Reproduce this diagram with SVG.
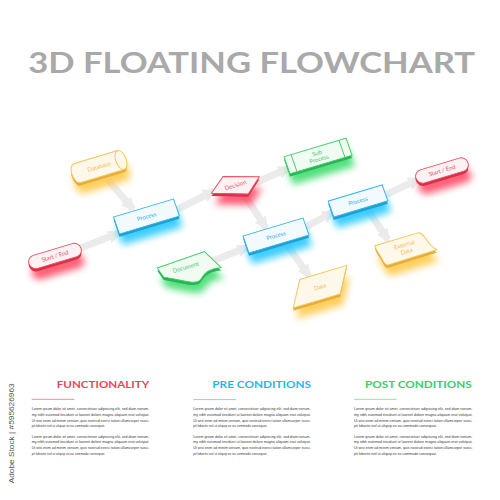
<svg xmlns="http://www.w3.org/2000/svg" width="500" height="500" viewBox="0 0 500 500">
<defs>
<style>
.title{font-family:Lato,"Open Sans","Liberation Sans",sans-serif;font-weight:700}
.node text{font-family:Lato,"Open Sans","Liberation Sans",sans-serif;font-size:5.6px;text-anchor:middle;stroke:none}
.shadow{filter:url(#blur);opacity:.8}
.face{stroke-width:.9}
.blue .shadow{fill:#08c2ff}.blue .edge{fill:#1e9fd4}.blue .face{fill:#f2fafd;stroke:#2db6ea}.blue text{fill:#2aaee3}
.red .shadow{fill:#ff3552}.red .edge{fill:#d93049}.red .face{fill:#fdf2f3;stroke:#ef4a60}.red text{fill:#ec4a60}
.green .shadow{fill:#2ad85e}.green .edge{fill:#28b454}.green .face{fill:#f0fbf2;stroke:#3fcf6b}.green text{fill:#43c96c}
.yellow .shadow{fill:#ffc235}.yellow .edge{fill:#e6ad35}.yellow .face{fill:#fef8ea;stroke:#f2c45c}.yellow text{fill:#eebc4f}
.conn{fill:none;stroke:#ebebeb;stroke-width:7;marker-end:url(#arr)}
.body{font-family:"Liberation Sans",Arial,sans-serif;font-size:3.6px;fill:#383838}
.hd{font-family:Lato,"Open Sans","Liberation Sans",sans-serif;font-weight:700;font-size:10.2px;text-anchor:end}
</style>
<filter id="blur" x="-50%" y="-50%" width="200%" height="200%"><feGaussianBlur stdDeviation="3.4"/></filter>
<marker id="arr" viewBox="0 0 10 10" refX="8" refY="5" markerWidth="1.9" markerHeight="1.9" orient="auto"><path d="M0,0 L10,5 L0,10 z" fill="#ebebeb"/></marker>
<rect id="sp60" x="-30" y="-8.5" width="60" height="17"/>
<rect id="sp54" x="-27" y="-8" width="54" height="16"/>
<rect id="sp62" x="-31" y="-8.5" width="62" height="17"/>
<rect id="sse" x="-26" y="-6.5" width="52" height="13" rx="6.5"/>
<path id="sdb" d="M-24,-9.5 H20 A5 9.5 0 0 1 20 9.5 H-24 A5 9.5 0 0 1 -24 -9.5 Z"/>
<polygon id="sdec" points="-24.3,0.9 -8.6,-11.2 24.2,-1.1 8.8,11.5"/>
<path id="sdoc" d="M-30,-8 L18,-10 L28,9 C20,7 12,8 6,14 C0,19 -14,8 -27,2 Z"/>
<polygon id="sdata" points="-16,-12 31,-12 16,12 -31,12"/>
<path id="sext" d="M-26,-12 L17,-12 C22,-12 22,-2 25,3 C27,7 29,8 29,8.5 L-20,9 C-24,9 -23,0 -25,-4 C-26,-8 -26,-10 -26,-12 Z"/>
</defs>
<rect width="500" height="500" fill="#ffffff"/>

<text class="title" x="28.3" y="72.7" font-size="29" fill="#a9a9a9" textLength="446.7" lengthAdjust="spacingAndGlyphs">3D FLOATING FLOWCHART</text>

<g id="connectors">
<line class="conn" x1="78" y1="249" x2="119" y2="233"/>
<line class="conn" x1="108" y1="180" x2="133" y2="209"/>
<line class="conn" x1="176" y1="210" x2="214" y2="191"/>
<line class="conn" x1="255" y1="183" x2="289" y2="168"/>
<line class="conn" x1="243" y1="193" x2="266" y2="228"/>
<line class="conn" x1="210" y1="262" x2="248" y2="247"/>
<line class="conn" x1="304" y1="228" x2="333" y2="212"/>
<line class="conn" x1="383" y1="196" x2="419" y2="179"/>
<line class="conn" x1="368" y1="210" x2="388" y2="240"/>
<line class="conn" x1="288" y1="246" x2="309" y2="276"/>
</g>

<g id="start-end-1" class="node red" transform="translate(55,256)">
<use href="#sse" class="shadow" transform="translate(3,11) matrix(1,-0.3,0.35,1,0,0)"/>
<use href="#sse" class="edge" transform="translate(0,2.8) matrix(1,-0.3,0.35,1,0,0)"/>
<g class="face" transform="matrix(1,-0.3,0.35,1,0,0)"><use href="#sse"/><text y="2">Start / End</text></g>
</g>

<g id="database" class="node yellow" transform="translate(101,166)">
<use href="#sdb" class="shadow" transform="translate(3,11) matrix(1,-0.3,0.35,1,0,0)"/>
<use href="#sdb" class="edge" transform="translate(0,2.8) matrix(1,-0.3,0.35,1,0,0)"/>
<g class="face" transform="matrix(1,-0.3,0.35,1,0,0)"><use href="#sdb"/><path d="M20,-9.5 A5 9.5 0 0 0 20 9.5" fill="none"/><text x="-2" y="2">Database</text></g>
</g>

<g id="process-1" class="node blue" transform="translate(146.5,216.5)">
<use href="#sp60" class="shadow" transform="translate(3,11) matrix(1,-0.3,0.35,1,0,0)"/>
<use href="#sp60" class="edge" transform="translate(0,2.8) matrix(1,-0.3,0.35,1,0,0)"/>
<g class="face" transform="matrix(1,-0.3,0.35,1,0,0)"><use href="#sp60"/><text y="2">Process</text></g>
</g>

<g id="decision" class="node red" transform="translate(235.5,185.1)">
<use href="#sdec" class="shadow" transform="translate(3,11) matrix(1,-0.3,0.35,1,0,0)"/>
<use href="#sdec" class="edge" transform="translate(0,2.8) matrix(1,-0.3,0.35,1,0,0)"/>
<g class="face" transform="matrix(1,-0.3,0.35,1,0,0)"><use href="#sdec"/><text y="2">Decision</text></g>
</g>

<g id="sub-process" class="node green" transform="translate(318,156)">
<use href="#sp62" class="shadow" transform="translate(3,11) matrix(1,-0.3,0.35,1,0,0)"/>
<use href="#sp62" class="edge" transform="translate(0,2.8) matrix(1,-0.3,0.35,1,0,0)"/>
<g class="face" transform="matrix(1,-0.3,0.35,1,0,0)"><use href="#sp62"/><path d="M-24,-8.5V8.5M24,-8.5V8.5" fill="none"/><text y="-1">Sub</text><text y="5">Process</text></g>
</g>

<g id="start-end-2" class="node red" transform="translate(442,170.5)">
<use href="#sse" class="shadow" transform="translate(3,11) matrix(1,-0.3,0.35,1,0,0)"/>
<use href="#sse" class="edge" transform="translate(0,2.8) matrix(1,-0.3,0.35,1,0,0)"/>
<g class="face" transform="matrix(1,-0.3,0.35,1,0,0)"><use href="#sse"/><text y="2">Start / End</text></g>
</g>

<g id="process-3" class="node blue" transform="translate(358,201)">
<use href="#sp54" class="shadow" transform="translate(3,11) matrix(1,-0.3,0.35,1,0,0)"/>
<use href="#sp54" class="edge" transform="translate(0,2.8) matrix(1,-0.3,0.35,1,0,0)"/>
<g class="face" transform="matrix(1,-0.3,0.35,1,0,0)"><use href="#sp54"/><text y="2">Process</text></g>
</g>

<g id="process-2" class="node blue" transform="translate(276,235.5)">
<use href="#sp60" class="shadow" transform="translate(3,11) matrix(1,-0.3,0.35,1,0,0)"/>
<use href="#sp60" class="edge" transform="translate(0,2.8) matrix(1,-0.3,0.35,1,0,0)"/>
<g class="face" transform="matrix(1,-0.3,0.35,1,0,0)"><use href="#sp60"/><text y="2">Process</text></g>
</g>

<g id="document" class="node green" transform="translate(190,267)">
<use href="#sdoc" class="shadow" transform="translate(3,11) matrix(1,-0.3,0.35,1,0,0)"/>
<use href="#sdoc" class="edge" transform="translate(0,2.8) matrix(1,-0.3,0.35,1,0,0)"/>
<g class="face" transform="matrix(1,-0.3,0.35,1,0,0)"><use href="#sdoc"/><text x="-4" y="1">Document</text></g>
</g>

<g id="data" class="node yellow" transform="translate(320,286.7)">
<use href="#sdata" class="shadow" transform="translate(3,11) matrix(1,-0.3,0.35,1,0,0)"/>
<use href="#sdata" class="edge" transform="translate(0,2.8) matrix(1,-0.3,0.35,1,0,0)"/>
<g class="face" transform="matrix(1,-0.3,0.35,1,0,0)"><use href="#sdata"/><text y="2">Data</text></g>
</g>

<g id="external-data" class="node yellow" transform="translate(405,250)">
<use href="#sext" class="shadow" transform="translate(3,11) matrix(1,-0.3,0.35,1,0,0)"/>
<use href="#sext" class="edge" transform="translate(0,2.8) matrix(1,-0.3,0.35,1,0,0)"/>
<g class="face" transform="matrix(1,-0.3,0.35,1,0,0)"><use href="#sext"/><text x="1" y="-3">External</text><text x="1" y="3.5">Data</text></g>
</g>

<g id="col-functionality">
<text class="hd" x="149.3" y="388.3" fill="#f1435d" textLength="92.6" lengthAdjust="spacingAndGlyphs">FUNCTIONALITY</text>
<line x1="31.7" y1="399.3" x2="74.3" y2="399.3" stroke="#f58a9a" stroke-width="1"/>
<g class="body">
<text x="31.7" y="410.2" textLength="117.6" lengthAdjust="spacingAndGlyphs">Lorem ipsum dolor sit amet, consectetuer adipiscing elit, sed diam nonum-</text>
<text x="31.7" y="415.9" textLength="117.6" lengthAdjust="spacingAndGlyphs">my nibh euismod tincidunt ut laoreet dolore magna aliquam erat volutpat.</text>
<text x="31.7" y="421.6" textLength="117.6" lengthAdjust="spacingAndGlyphs">Ut wisi enim ad minim veniam, quis nostrud exerci tation ullamcorper susci-</text>
<text x="31.7" y="427.3" textLength="73.3" lengthAdjust="spacingAndGlyphs">pit lobortis nisl ut aliquip ex ea commodo consequat.</text>
<text x="31.7" y="437.5" textLength="117.6" lengthAdjust="spacingAndGlyphs">Lorem ipsum dolor sit amet, consectetuer adipiscing elit, sed diam nonum-</text>
<text x="31.7" y="443.2" textLength="117.6" lengthAdjust="spacingAndGlyphs">my nibh euismod tincidunt ut laoreet dolore magna aliquam erat volutpat.</text>
<text x="31.7" y="448.9" textLength="117.6" lengthAdjust="spacingAndGlyphs">Ut wisi enim ad minim veniam, quis nostrud exerci tation ullamcorper susci-</text>
<text x="31.7" y="454.6" textLength="73.3" lengthAdjust="spacingAndGlyphs">pit lobortis nisl ut aliquip ex ea commodo consequat.</text>
</g>
</g>

<g id="col-pre-conditions">
<text class="hd" x="311" y="388.3" fill="#1fb8ee" textLength="98.7" lengthAdjust="spacingAndGlyphs">PRE CONDITIONS</text>
<line x1="193.3" y1="399.6" x2="236" y2="399.6" stroke="#7fd6f5" stroke-width="1"/>
<g class="body">
<text x="193.3" y="410.2" textLength="117.4" lengthAdjust="spacingAndGlyphs">Lorem ipsum dolor sit amet, consectetuer adipiscing elit, sed diam nonum-</text>
<text x="193.3" y="415.9" textLength="117.4" lengthAdjust="spacingAndGlyphs">my nibh euismod tincidunt ut laoreet dolore magna aliquam erat volutpat.</text>
<text x="193.3" y="421.6" textLength="117.4" lengthAdjust="spacingAndGlyphs">Ut wisi enim ad minim veniam, quis nostrud exerci tation ullamcorper susci-</text>
<text x="193.3" y="427.3" textLength="74" lengthAdjust="spacingAndGlyphs">pit lobortis nisl ut aliquip ex ea commodo consequat.</text>
<text x="193.3" y="437.5" textLength="117.4" lengthAdjust="spacingAndGlyphs">Lorem ipsum dolor sit amet, consectetuer adipiscing elit, sed diam nonum-</text>
<text x="193.3" y="443.2" textLength="117.4" lengthAdjust="spacingAndGlyphs">my nibh euismod tincidunt ut laoreet dolore magna aliquam erat volutpat.</text>
<text x="193.3" y="448.9" textLength="117.4" lengthAdjust="spacingAndGlyphs">Ut wisi enim ad minim veniam, quis nostrud exerci tation ullamcorper susci-</text>
<text x="193.3" y="454.6" textLength="74" lengthAdjust="spacingAndGlyphs">pit lobortis nisl ut aliquip ex ea commodo consequat.</text>
</g>
</g>

<g id="col-post-conditions">
<text class="hd" x="471.7" y="388.3" fill="#35d06a" textLength="106.7" lengthAdjust="spacingAndGlyphs">POST CONDITIONS</text>
<line x1="354" y1="399.3" x2="396.7" y2="399.3" stroke="#8fe3aa" stroke-width="1"/>
<g class="body">
<text x="354" y="410.2" textLength="118.5" lengthAdjust="spacingAndGlyphs">Lorem ipsum dolor sit amet, consectetuer adipiscing elit, sed diam nonum-</text>
<text x="354" y="415.9" textLength="118.5" lengthAdjust="spacingAndGlyphs">my nibh euismod tincidunt ut laoreet dolore magna aliquam erat volutpat.</text>
<text x="354" y="421.6" textLength="118.5" lengthAdjust="spacingAndGlyphs">Ut wisi enim ad minim veniam, quis nostrud exerci tation ullamcorper susci-</text>
<text x="354" y="427.3" textLength="82.7" lengthAdjust="spacingAndGlyphs">pit lobortis nisl ut aliquip ex ea commodo consequat.</text>
<text x="354" y="437.5" textLength="118.5" lengthAdjust="spacingAndGlyphs">Lorem ipsum dolor sit amet, consectetuer adipiscing elit, sed diam nonum-</text>
<text x="354" y="443.2" textLength="118.5" lengthAdjust="spacingAndGlyphs">my nibh euismod tincidunt ut laoreet dolore magna aliquam erat volutpat.</text>
<text x="354" y="448.9" textLength="118.5" lengthAdjust="spacingAndGlyphs">Ut wisi enim ad minim veniam, quis nostrud exerci tation ullamcorper susci-</text>
<text x="354" y="454.6" textLength="82.7" lengthAdjust="spacingAndGlyphs">pit lobortis nisl ut aliquip ex ea commodo consequat.</text>
</g>
</g>

<text transform="translate(14,483.3) rotate(-90)" font-family="'Liberation Sans',Arial,sans-serif" font-size="7" fill="#555555" textLength="100" lengthAdjust="spacingAndGlyphs">Adobe Stock | #595626963</text>
</svg>
